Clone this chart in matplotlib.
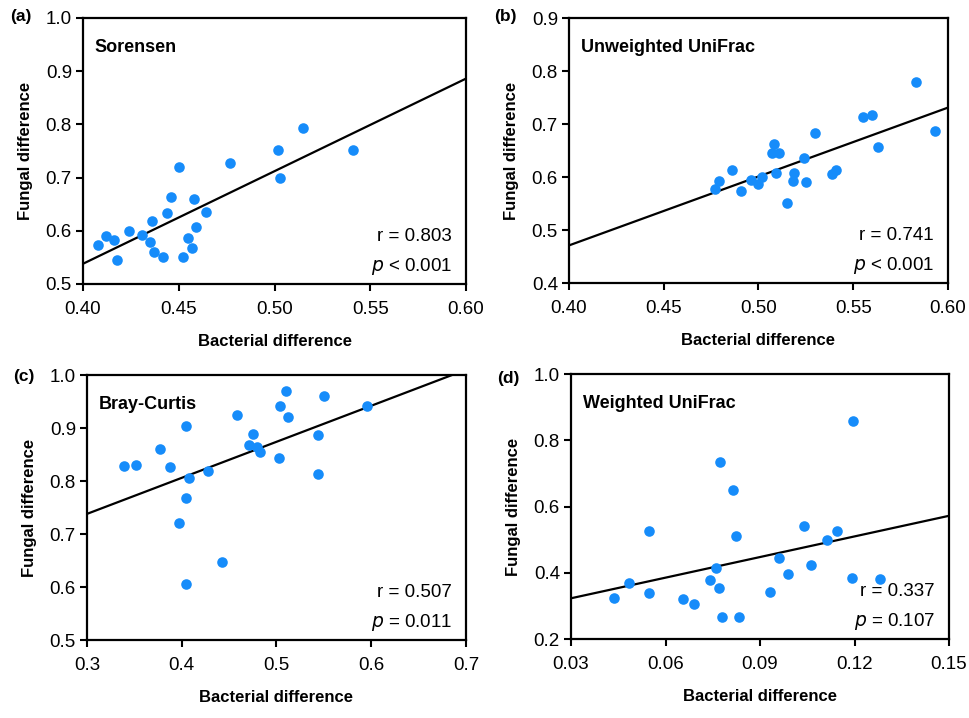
import numpy as np
import matplotlib.pyplot as plt

plt.rcParams['font.family'] = ['Liberation Sans', 'DejaVu Sans']

# (a) Sorensen
sor_x = [0.408, 0.412, 0.416, 0.418, 0.424, 0.431, 0.435, 0.436, 0.437, 0.442, 0.444, 0.446,
         0.450, 0.452, 0.455, 0.457, 0.458, 0.459, 0.464, 0.477, 0.502, 0.503, 0.515, 0.541]
sor_y = [0.573, 0.590, 0.582, 0.545, 0.600, 0.592, 0.578, 0.618, 0.560, 0.551, 0.633, 0.663,
         0.719, 0.550, 0.587, 0.568, 0.660, 0.607, 0.636, 0.728, 0.752, 0.699, 0.794, 0.751]
sor_fit = [0.538, 0.886]   # fitted line at x = 0.40 and 0.60

# (b) Unweighted UniFrac
unw_x = [0.477, 0.479, 0.486, 0.491, 0.496, 0.500, 0.502, 0.507, 0.508, 0.509, 0.511, 0.515,
         0.518, 0.519, 0.525, 0.524, 0.530, 0.539, 0.541, 0.555, 0.560, 0.563, 0.583, 0.593]
unw_y = [0.577, 0.592, 0.614, 0.573, 0.595, 0.587, 0.600, 0.646, 0.662, 0.607, 0.646, 0.551,
         0.592, 0.607, 0.591, 0.636, 0.684, 0.606, 0.613, 0.713, 0.717, 0.657, 0.780, 0.687]
unw_fit = [0.471, 0.731]   # at x = 0.40 and 0.60

# (c) Bray-Curtis
bc_x = [0.339, 0.352, 0.377, 0.388, 0.397, 0.404, 0.404, 0.404, 0.408, 0.428, 0.443, 0.458,
        0.471, 0.475, 0.479, 0.483, 0.503, 0.504, 0.510, 0.512, 0.544, 0.544, 0.550, 0.595]
bc_y = [0.829, 0.831, 0.860, 0.826, 0.720, 0.903, 0.768, 0.606, 0.805, 0.818, 0.647, 0.925,
        0.868, 0.888, 0.864, 0.855, 0.844, 0.942, 0.969, 0.921, 0.886, 0.814, 0.961, 0.941]
bc_fit = [0.738, 1.010]   # at x = 0.30 and 0.70

# (d) Weighted UniFrac
w_x = [0.0435, 0.0485, 0.0546, 0.0546, 0.0655, 0.0690, 0.0740, 0.0760, 0.0771, 0.0773, 0.0779, 0.0814,
       0.0824, 0.0833, 0.0931, 0.0961, 0.0988, 0.1039, 0.1063, 0.1113, 0.1143, 0.1196, 0.1192, 0.1280]
w_y = [0.323, 0.368, 0.526, 0.340, 0.321, 0.307, 0.379, 0.413, 0.353, 0.734, 0.265, 0.651,
       0.510, 0.265, 0.342, 0.446, 0.397, 0.542, 0.423, 0.499, 0.527, 0.858, 0.385, 0.382]
w_fit = [0.323, 0.572]    # at x = 0.03 and 0.15

panels = [
    ("(a)", "Sorensen", sor_x, sor_y, sor_fit, (0.40, 0.60), np.arange(0.40, 0.61, 0.05), "%.2f",
     (0.5, 1.0), np.arange(0.5, 1.01, 0.1), "0.803", "< 0.001"),
    ("(b)", "Unweighted UniFrac", unw_x, unw_y, unw_fit, (0.40, 0.60), np.arange(0.40, 0.61, 0.05), "%.2f",
     (0.4, 0.9), np.arange(0.4, 0.91, 0.1), "0.741", "< 0.001"),
    ("(c)", "Bray-Curtis", bc_x, bc_y, bc_fit, (0.3, 0.7), np.arange(0.3, 0.71, 0.1), "%.1f",
     (0.5, 1.0), np.arange(0.5, 1.01, 0.1), "0.507", "= 0.011"),
    ("(d)", "Weighted UniFrac", w_x, w_y, w_fit, (0.03, 0.15), np.arange(0.03, 0.151, 0.03), "%.2f",
     (0.2, 1.0), np.arange(0.2, 1.01, 0.2), "0.337", "= 0.107"),
]

# axes boxes in figure fractions
boxes = [[0.0856, 0.6045, 0.3948, 0.3705],
         [0.5866, 0.6058, 0.3907, 0.3691],
         [0.0897, 0.1086, 0.3907, 0.3691],
         [0.5887, 0.1100, 0.3897, 0.3691]]
label_pos = [(10, 17), (494, 17), (13, 377), (497, 378)]

fig = plt.figure(figsize=(9.7, 7.18), dpi=100)

for (lab, name, x, y, fit, xl, xt, xfmt, yl, yt, r, p), box, lp in zip(panels, boxes, label_pos):
    ax = fig.add_axes(box)
    ax.scatter(x, y, s=58, color='#168CFA', zorder=3, linewidths=0)
    ax.plot(xl, fit, color='black', lw=1.6, zorder=2)
    ax.set_xlim(xl)
    ax.set_ylim(yl)
    ax.set_xticks(xt)
    ax.set_yticks(yt)
    ax.set_xticklabels([xfmt % v for v in xt])
    ax.set_yticklabels(["%.1f" % v for v in yt])
    ax.tick_params(direction='out', length=5, width=1.5, labelsize=13.5)
    ax.tick_params(axis='x', pad=7)
    ax.tick_params(axis='y', pad=3)
    for s in ax.spines.values():
        s.set_linewidth(1.6)
    ax.set_xlabel("Bacterial difference", fontsize=12, fontweight='bold', labelpad=12)
    ax.set_ylabel("Fungal difference", fontsize=12, fontweight='bold', labelpad=9)
    ax.text(0.031, 0.89, name, transform=ax.transAxes, fontsize=13, fontweight='bold',
            va='center', ha='left')
    ax.text(0.963, 0.18, "r = " + r, transform=ax.transAxes, fontsize=13.5, va='center', ha='right')
    ax.text(0.965, 0.065, "$\\it{p}$ " + p, transform=ax.transAxes, fontsize=13.5,
            va='center', ha='right')
    fig.text(lp[0] / 970, 1 - lp[1] / 718, lab, fontsize=12.5, fontweight='bold', va='center', ha='left')

fig.savefig("out.png", dpi=100)
